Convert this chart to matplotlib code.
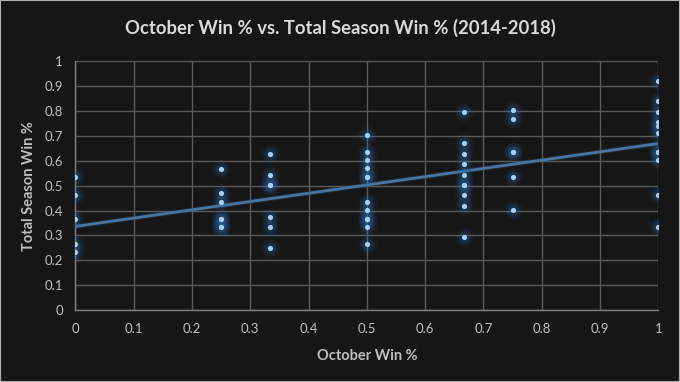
import numpy as np
import matplotlib
matplotlib.use("Agg")
import matplotlib.pyplot as plt
import matplotlib.patheffects as pe

plt.rcParams['font.family'] = ['Lato', 'DejaVu Sans']

# October win % and total season win % per team-season
oct_0 = [0.535, 0.461, 0.367, 0.266, 0.232]
oct_25 = [0.567, 0.469, 0.434, 0.366, 0.366, 0.334, 0.334]
oct_33 = [0.629, 0.543, 0.504, 0.504, 0.375, 0.335, 0.250]
oct_50 = [0.703, 0.637, 0.602, 0.569, 0.535, 0.535, 0.435, 0.402, 0.367, 0.367, 0.335, 0.267]
oct_67 = [0.794, 0.671, 0.629, 0.586, 0.543, 0.502, 0.502, 0.461, 0.418, 0.293]
oct_75 = [0.803, 0.769, 0.637, 0.637, 0.535, 0.402]
oct_100 = [0.922, 0.839, 0.797, 0.754, 0.738, 0.711, 0.637, 0.637, 0.603, 0.461, 0.335]

groups = [(0.0, oct_0), (0.25, oct_25), (1 / 3, oct_33), (0.5, oct_50),
          (2 / 3, oct_67), (0.75, oct_75), (1.0, oct_100)]

x = np.concatenate([[gx] * len(ys) for gx, ys in groups])
y = np.concatenate([ys for gx, ys in groups])

bg = '#161616'
grid_col = '#5a5a5a'
text_col = '#bfbfbf'

fig = plt.figure(figsize=(6.8, 3.82), dpi=100, facecolor=bg)
ax = fig.add_axes([0.111, 0.188, 0.857, 0.652], facecolor=bg)

# linear trendline
slope, intercept = np.polyfit(x, y, 1)
tx = np.array([0.0, 1.0])
ax.plot(tx, intercept + slope * tx, color='#4a75a0', lw=2.0, zorder=3,
        solid_capstyle='butt',
        path_effects=[pe.Stroke(linewidth=3.5, foreground='#2b4f75', alpha=0.3), pe.Normal()])

# glowing markers
for s, a in [(190, 0.07), (120, 0.10), (65, 0.16)]:
    ax.scatter(x, y, s=s, color='#2a6ab0', alpha=a, linewidths=0, zorder=4)
ax.scatter(x, y, s=14, color='#a9cdf0', linewidths=0, zorder=5)

ax.set_xlim(0, 1)
ax.set_ylim(0, 1)
ax.set_xticks(np.arange(0, 1.01, 0.1))
ax.set_yticks(np.arange(0, 1.01, 0.1))
ax.set_xticklabels(['0'] + [f'{v:.1f}' for v in np.arange(0.1, 0.95, 0.1)] + ['1'])
ax.set_yticklabels(['0'] + [f'{v:.1f}' for v in np.arange(0.1, 0.95, 0.1)] + ['1'])
ax.grid(True, color=grid_col, lw=1.0)
ax.set_axisbelow(True)
for side in ['top', 'right']:
    ax.spines[side].set_visible(False)
for side in ['left', 'bottom']:
    ax.spines[side].set_color('#7f7f7f')
    ax.spines[side].set_linewidth(1.0)
ax.tick_params(length=0, colors=text_col, labelsize=9.5, pad=9)

ax.set_xlabel('October Win %', color=text_col, fontsize=10.5, fontweight='bold', labelpad=10)
ax.set_ylabel('Total Season Win %', color=text_col, fontsize=10.5, fontweight='bold', labelpad=6)
fig.text(0.5, 0.927, 'October Win % vs. Total Season Win % (2014-2018)', ha='center', va='center',
         color='#d9d9d9', fontsize=13.3, fontweight='bold')

# outer border
fig.patches.append(plt.Rectangle((0, 0), 1, 1, transform=fig.transFigure, fill=False,
                                 edgecolor='#b0b0b0', lw=1.5))

fig.savefig('out.png', dpi=100, facecolor=bg)
